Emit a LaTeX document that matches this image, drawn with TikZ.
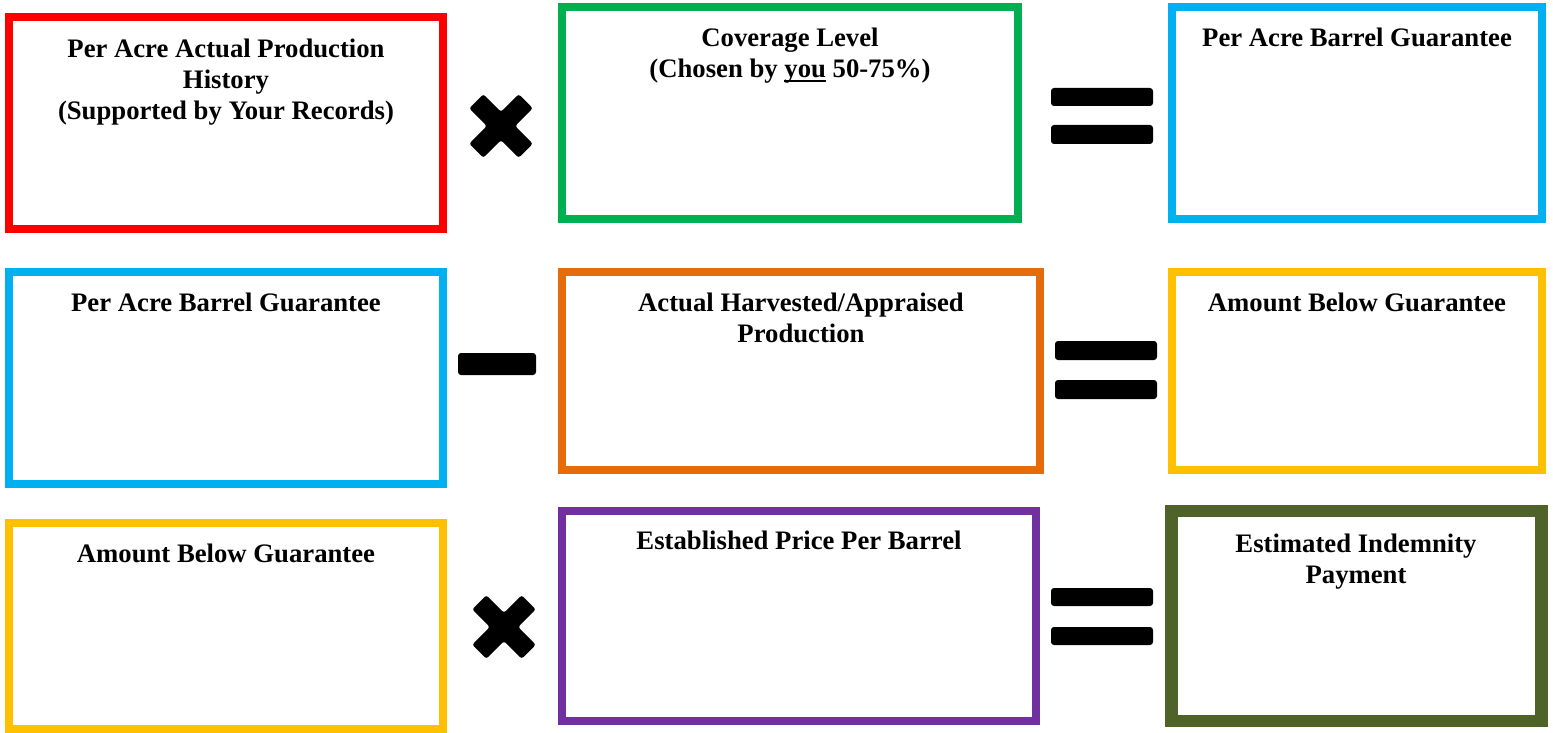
\documentclass[tikz,border=0pt]{standalone}
\usepackage{fontspec}
\setmainfont{Liberation Serif}
\definecolor{cRed}{HTML}{FF0000}
\definecolor{cGreen}{HTML}{00B050}
\definecolor{cBlue}{HTML}{00B0F0}
\definecolor{cOrange}{HTML}{E46C0A}
\definecolor{cYellow}{HTML}{FFC000}
\definecolor{cPurple}{HTML}{7030A0}
\definecolor{cOlive}{HTML}{4F6228}
\newcommand\thickul[1]{{\setbox0\hbox{#1}\rlap{\rule[-4.2pt]{\wd0}{2.4pt}}#1}}
\begin{document}
\begin{tikzpicture}[x=1pt,y=-1pt,
  box/.style={rectangle, draw, line width=8pt, inner sep=0pt, fill=white},
  lbl/.style={anchor=north, align=center, inner sep=0pt, font=\bfseries\fontsize{26.7}{31}\selectfont},
  opbar/.style={fill=black, rounded corners=3pt},
  timesmark/.pic={\fill[rotate=45, rounded corners=2.5pt] (-10,-35) -- (10,-35) -- (10,-10) -- (35,-10) -- (35,10) -- (10,10) -- (10,35) -- (-10,35) -- (-10,10) -- (-35,10) -- (-35,-10) -- (-10,-10) -- cycle;}
]
\useasboundingbox[fill=white] (0,0) rectangle (1553,733);

% row 1
\node[box, draw=cRed, minimum width=434pt, minimum height=212pt] (b1) at (226,123) {};
\node[box, draw=cGreen, minimum width=456pt, minimum height=212pt] (b2) at (790,113) {};
\node[box, draw=cBlue, minimum width=370pt, minimum height=212pt] (b3) at (1357,113) {};
% row 2
\node[box, draw=cBlue, minimum width=434pt, minimum height=212pt] (b4) at (226,378) {};
\node[box, draw=cOrange, minimum width=478pt, minimum height=198pt] (b5) at (801,371) {};
\node[box, draw=cYellow, minimum width=370pt, minimum height=198pt] (b6) at (1357,371) {};
% row 3
\node[box, draw=cYellow, minimum width=434pt, minimum height=206pt] (b7) at (226,626) {};
\node[box, draw=cPurple, minimum width=474pt, minimum height=210pt] (b8) at (799,616) {};
\node[box, draw=cOlive, line width=12.5pt, minimum width=370pt, minimum height=210pt] (b9) at (1356.5,616) {};

% labels
\node[lbl] (t1) at (226,39) {Per Acre Actual Production\\History\\(Supported by Your Records)};
\node[lbl] (t2) at (790,28) {Coverage Level\\(Chosen by \thickul{you} 50-75\%)};
\node[lbl] (t3) at (1357,28) {Per Acre Barrel Guarantee};
\node[lbl] (t4) at (226,293) {Per Acre Barrel Guarantee};
\node[lbl] (t5) at (801,293) {Actual Harvested/Appraised\\Production};
\node[lbl] (t6) at (1357,293) {Amount Below Guarantee};
\node[lbl] (t7) at (226,544) {Amount Below Guarantee};
\node[lbl] (t8) at (799,531) {Established Price Per Barrel};
\node[lbl] (t9) at (1356,534) {Estimated Indemnity\\Payment};

% operators
\pic at (501,126) {timesmark};
\pic at (504,627) {timesmark};
\fill[opbar] (458,353) rectangle (536,375);
\fill[opbar] (1051,88) rectangle (1153,106);
\fill[opbar] (1051,125) rectangle (1153,144);
\fill[opbar] (1055,341) rectangle (1157,360);
\fill[opbar] (1055,380) rectangle (1157,399);
\fill[opbar] (1051,588) rectangle (1153,606);
\fill[opbar] (1051,627) rectangle (1153,645);
\end{tikzpicture}
\end{document}
